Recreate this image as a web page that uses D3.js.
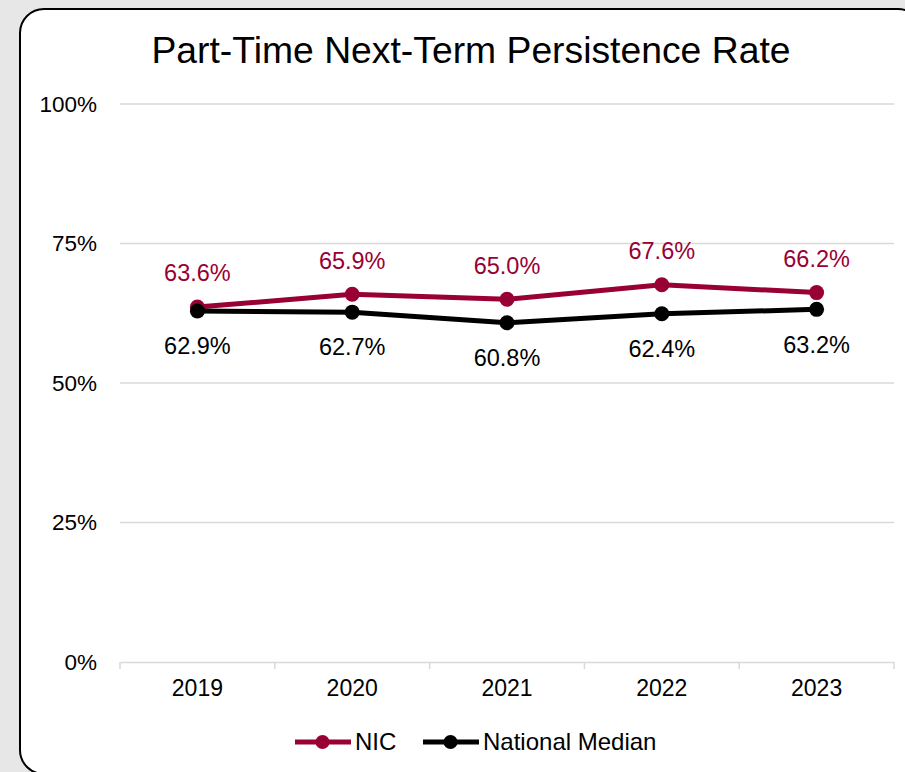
<!DOCTYPE html>
<html>
<head>
<meta charset="utf-8">
<script src="https://cdn.jsdelivr.net/npm/d3@7"></script>
<style>
  html, body { margin: 0; padding: 0; background: #e7e7e7; }
  svg { display: block; font-family: "Liberation Sans", Arial, sans-serif; }
</style>
</head>
<body>
<script>
const years = ["2019", "2020", "2021", "2022", "2023"];
const nicValues = [63.6, 65.9, 65.0, 67.6, 66.2];
const nationalValues = [62.9, 62.7, 60.8, 62.4, 63.2];
const yTicks = [0, 25, 50, 75, 100];
const seriesNames = ["NIC", "National Median"];
const seriesColors = ["#990033", "#000000"];
const title = "Part-Time Next-Term Persistence Rate";

const W = 905, H = 772;
const svg = d3.select("body").append("svg").attr("width", W).attr("height", H);

svg.append("rect").attr("x", 0).attr("y", 0).attr("width", W).attr("height", H).attr("fill", "#e7e7e7");
svg.append("rect").attr("x", 20).attr("y", 9).attr("width", 902).attr("height", 765)
  .attr("rx", 24).attr("ry", 24).attr("fill", "#ffffff").attr("stroke", "#000").attr("stroke-width", 2);

svg.append("text").attr("x", 471).attr("y", 63).attr("text-anchor", "middle")
  .attr("font-size", 37.3).attr("fill", "#000").text(title);

const x = d3.scaleBand().domain(years).range([120, 894]);
const y = d3.scaleLinear().domain([0, 100]).range([662, 104]);

// gridlines
svg.append("g").selectAll("line").data(yTicks.filter(d => d > 0)).join("line")
  .attr("x1", 120).attr("x2", 894).attr("y1", d => y(d)).attr("y2", d => y(d))
  .attr("stroke", "#d9d9d9").attr("stroke-width", 1.5);

// y labels
svg.append("g").selectAll("text").data(yTicks).join("text")
  .attr("x", 97).attr("y", d => y(d)).attr("dy", "0.35em").attr("text-anchor", "end")
  .attr("font-size", 22.5).attr("fill", "#000").text(d => d + "%");

// x axis
const xAxis = d3.axisBottom(x).tickSize(0).tickSizeOuter(0).tickPadding(18);
const gx = svg.append("g").attr("transform", `translate(0,${y(0)})`).call(xAxis);
gx.select(".domain").attr("stroke", "#d9d9d9").attr("stroke-width", 1.5);
gx.selectAll("text").attr("font-size", 23).attr("fill", "#000").attr("font-family", "Liberation Sans, Arial, sans-serif");
const bounds = [120, ...years.map(d => x(d) + x.bandwidth())];
gx.selectAll(".bt").data(bounds).join("line").attr("class", "bt")
  .attr("x1", d => d).attr("x2", d => d).attr("y1", 0).attr("y2", 7)
  .attr("stroke", "#d9d9d9").attr("stroke-width", 1.5);

const cx = d => x(d) + x.bandwidth() / 2;
const line = d3.line().x(d => cx(d.year)).y(d => y(d.v));

const series = [
  { name: seriesNames[0], color: seriesColors[0], vals: nicValues, dy: -34 },
  { name: seriesNames[1], color: seriesColors[1], vals: nationalValues, dy: 35 }
];

series.forEach(s => {
  const pts = years.map((yr, i) => ({ year: yr, v: s.vals[i] }));
  svg.append("path").attr("d", line(pts)).attr("fill", "none")
    .attr("stroke", s.color).attr("stroke-width", 5).attr("stroke-linejoin", "round");
  svg.append("g").selectAll("circle").data(pts).join("circle")
    .attr("cx", d => cx(d.year)).attr("cy", d => y(d.v)).attr("r", 7.5).attr("fill", s.color);
  svg.append("g").selectAll("text").data(pts).join("text")
    .attr("x", d => cx(d.year)).attr("y", d => y(d.v) + s.dy).attr("dy", "0.35em")
    .attr("text-anchor", "middle").attr("font-size", 23.5).attr("fill", s.color)
    .text(d => d.v.toFixed(1) + "%");
});

// legend
const legendItems = [
  { name: seriesNames[0], color: seriesColors[0], x0: 295 },
  { name: seriesNames[1], color: seriesColors[1], x0: 423 }
];
const ly = 742;
legendItems.forEach(it => {
  svg.append("line").attr("x1", it.x0).attr("x2", it.x0 + 56).attr("y1", ly).attr("y2", ly)
    .attr("stroke", it.color).attr("stroke-width", 5);
  svg.append("circle").attr("cx", it.x0 + 27.5).attr("cy", ly).attr("r", 7).attr("fill", it.color);
  svg.append("text").attr("x", it.x0 + 60).attr("y", ly).attr("dy", "0.35em")
    .attr("font-size", 24).attr("fill", "#000").text(it.name);
});
</script>
</body>
</html>
